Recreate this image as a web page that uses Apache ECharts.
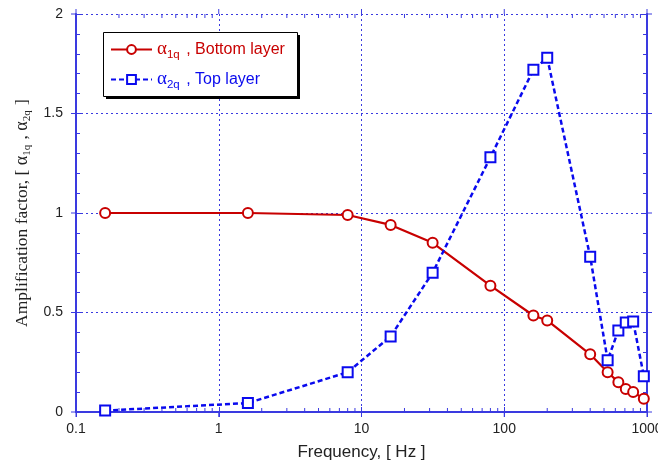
<!DOCTYPE html>
<html>
<head>
<meta charset="utf-8">
<script src="https://cdn.jsdelivr.net/npm/echarts@6/dist/echarts.min.js"></script>
<style>
html,body{margin:0;padding:0;background:#fff;overflow:hidden;}
#chart{width:658px;height:465px;}
</style>
</head>
<body>
<div id="chart"></div>
<script>
// ---- data ----
const freq = [0.16, 1.6, 8, 16, 31.5, 80, 160, 200, 400, 530, 630, 710, 800, 950];
const bottomLayer = [1.0, 1.0, 0.99, 0.94, 0.85, 0.635, 0.485, 0.46, 0.29, 0.20, 0.15, 0.115, 0.10, 0.067];
const topLayer = [0.007, 0.045, 0.20, 0.38, 0.70, 1.28, 1.72, 1.78, 0.78, 0.26, 0.41, 0.45, 0.455, 0.18];
const xMajorTicks = [0.1, 1, 10, 100, 1000];
const yMajorTicks = [0, 0.5, 1, 1.5, 2];
const xMinorTicks = [0.2, 0.3, 0.4, 0.5, 0.6, 0.7, 0.8, 0.9,
                     2, 3, 4, 5, 6, 7, 8, 9,
                     20, 30, 40, 50, 60, 70, 80, 90,
                     200, 300, 400, 500, 600, 700, 800, 900];

const AX = '#3a3ae0';
const RED = '#c80000';
const BLUE = '#0a0aee';
const SANS = '"Liberation Sans", Arial, sans-serif';
const SERIF = '"Liberation Serif", "Times New Roman", serif';

const tickData = [];
xMinorTicks.forEach(v => tickData.push([v, 0, 0]));
xMajorTicks.forEach(v => tickData.push([v, 0, 1]));
yMajorTicks.forEach(v => tickData.push([0.1, v, 2]));

const chart = echarts.init(document.getElementById('chart'), null, {width: 658, height: 465});

function subRich(color) {
  return {
    g: {fontFamily: SERIF, fontSize: 19, color: color, lineHeight: 22},
    s: {fontFamily: SANS, fontSize: 11.5, color: color, lineHeight: 11, padding: [11, 2, 0, 0]},
    t: {fontFamily: SANS, fontSize: 16, color: color, lineHeight: 22}
  };
}
const rr = subRich(RED), bb = subRich(BLUE);

const option = {
  backgroundColor: '#fff',
  animation: false,
  grid: {left: 76, top: 14, width: 571, height: 398, containLabel: false, outerBoundsMode: 'none'},
  graphic: [{
    type: 'rect', left: 106, top: 35, z: 49,
    shape: {width: 194, height: 64},
    style: {fill: '#000', stroke: null}
  }, {
    type: 'rect', left: 103, top: 32, z: 50,
    shape: {width: 194, height: 64},
    style: {fill: '#fff', stroke: '#000', lineWidth: 1}
  }],
  legend: {
    orient: 'vertical',
    left: 104, top: 38, z: 60,
    data: ['Bottom layer', 'Top layer'],
    itemWidth: 41, itemHeight: 11, itemGap: 7,
    padding: [0, 4, 0, 6],
    formatter: function (name) {
      return name === 'Bottom layer'
        ? '{ra|α}{rs|1q}{rt| , Bottom layer}'
        : '{ba|α}{bs|2q}{bt| , Top layer}';
    },
    textStyle: {
      rich: {
        ra: rr.g, rs: rr.s, rt: rr.t,
        ba: bb.g, bs: bb.s, bt: bb.t
      }
    }
  },
  xAxis: [{
    type: 'log', logBase: 10, min: 0.1, max: 1000, position: 'bottom',
    name: 'Frequency, [ Hz ]', nameLocation: 'middle', nameGap: 32,
    nameTextStyle: {fontFamily: SANS, fontSize: 17, color: '#222'},
    axisLine: {show: true, lineStyle: {color: AX, width: 2}},
    axisTick: {show: true, inside: true, length: 5, lineStyle: {color: AX, width: 1}},
    axisLabel: {fontFamily: SANS, fontSize: 14, color: '#222', margin: 10,
      formatter: v => String(v)},
    splitLine: {show: true, lineStyle: {color: AX, type: [2, 3], width: 1}}
  }, {
    type: 'log', logBase: 10, min: 0.1, max: 1000, position: 'top',
    axisLine: {show: true, lineStyle: {color: AX, width: 2}},
    axisTick: {show: true, inside: true, length: 5, lineStyle: {color: AX, width: 1}},
    axisLabel: {show: false},
    splitLine: {show: false}
  }],
  yAxis: [{
    type: 'value', min: 0, max: 2, interval: 0.5, position: 'left',
    name: 'Amplification factor, [ {g|α}{s|1q} , {g|α}{s|2q} ]',
    nameLocation: 'middle', nameGap: 42,
    nameTextStyle: {
      fontFamily: SERIF, fontSize: 17.5, color: '#222',
      rich: {
        g: {fontFamily: SERIF, fontSize: 18, color: '#222', lineHeight: 20},
        s: {fontFamily: SERIF, fontSize: 11, color: '#222', lineHeight: 10, padding: [10, 1, 0, 0]}
      }
    },
    axisLine: {show: true, lineStyle: {color: AX, width: 2}},
    axisTick: {show: true, inside: true, length: 5, lineStyle: {color: AX, width: 1}},
    minorTick: {show: true, splitNumber: 5, length: 4, lineStyle: {color: AX, width: 1}},
    axisLabel: {fontFamily: SANS, fontSize: 14, color: '#222', margin: 13,
      formatter: v => String(v)},
    splitLine: {show: true, lineStyle: {color: AX, type: [2, 3], width: 1}}
  }, {
    type: 'value', min: 0, max: 2, interval: 0.5, position: 'right',
    axisLine: {show: true, lineStyle: {color: AX, width: 2}},
    axisTick: {show: true, inside: true, length: 5, lineStyle: {color: AX, width: 1}},
    minorTick: {show: true, splitNumber: 5, length: 4, lineStyle: {color: AX, width: 1}},
    axisLabel: {show: false},
    splitLine: {show: false}
  }],
  series: [
    {
      name: 'Top layer', type: 'line', xAxisIndex: 0, yAxisIndex: 0,
      data: freq.map((f, i) => [f, topLayer[i]]),
      symbol: 'emptyRect', symbolSize: 10,
      lineStyle: {color: BLUE, width: 2.5, type: [5, 3]},
      itemStyle: {color: BLUE, borderColor: BLUE, borderWidth: 1.2},
      z: 3
    },
    {
      name: 'Bottom layer', type: 'line', xAxisIndex: 0, yAxisIndex: 0,
      data: freq.map((f, i) => [f, bottomLayer[i]]),
      symbol: 'emptyCircle', symbolSize: 10,
      lineStyle: {color: RED, width: 2.2},
      itemStyle: {color: RED, borderColor: RED, borderWidth: 1.2},
      z: 2
    },
    {
      type: 'custom', xAxisIndex: 0, yAxisIndex: 0, silent: true, clip: false, z: 6,
      data: tickData,
      renderItem: function (params, api) {
        const x = api.value(0), y = api.value(1), kind = api.value(2);
        const st = {stroke: AX, lineWidth: 1};
        if (kind === 0) {
          const b = api.coord([x, 0]), t = api.coord([x, 2]);
          return {type: 'group', children: [
            {type: 'line', shape: {x1: b[0], y1: b[1], x2: b[0], y2: b[1] - 4}, style: st},
            {type: 'line', shape: {x1: t[0], y1: t[1], x2: t[0], y2: t[1] + 4}, style: st}
          ]};
        } else if (kind === 1) {
          const b = api.coord([x, 0]), t = api.coord([x, 2]);
          return {type: 'group', children: [
            {type: 'line', shape: {x1: b[0], y1: b[1], x2: b[0], y2: b[1] + 5}, style: st},
            {type: 'line', shape: {x1: t[0], y1: t[1], x2: t[0], y2: t[1] - 5}, style: st}
          ]};
        } else {
          const l = api.coord([0.1, y]), r = api.coord([1000, y]);
          return {type: 'group', children: [
            {type: 'line', shape: {x1: l[0], y1: l[1], x2: l[0] - 5, y2: l[1]}, style: st},
            {type: 'line', shape: {x1: r[0], y1: r[1], x2: r[0] + 5, y2: r[1]}, style: st}
          ]};
        }
      }
    }
  ]
};
chart.setOption(option);
</script>
</body>
</html>
